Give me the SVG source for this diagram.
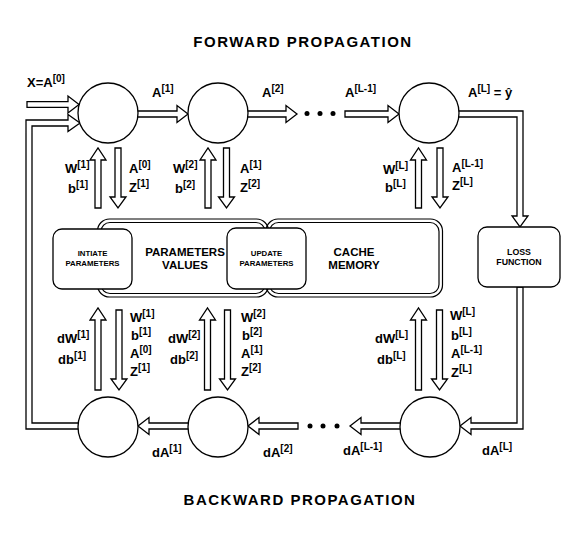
<svg xmlns="http://www.w3.org/2000/svg" width="585" height="545" viewBox="0 0 585 545">
<style>
.ar{fill:#fff;stroke:#000;stroke-width:1.3;stroke-linejoin:miter}
.nd{fill:#fff;stroke:#000;stroke-width:1.3}
.db{fill:none;stroke:#000;stroke-width:1.2}
.dot{fill:#000}
text{font-family:"Liberation Sans",Arial,sans-serif;font-weight:bold;fill:#000}
.lb{font-size:13px}
.sp{font-size:10px}
.t{font-size:15px;letter-spacing:1.5px;text-anchor:middle}
.bx{font-size:7.8px;text-anchor:middle}
.mb{font-size:11.5px;text-anchor:middle}
</style>
<rect width="585" height="545" fill="#fff"/>
<text class="t" x="303" y="47">FORWARD PROPAGATION</text>
<text class="t" x="300" y="505">BACKWARD PROPAGATION</text>

<g id="connectors">
  <path class="ar" d="M27,101.7 H68 V96 L79,104.5 L68,113 V107.3 H27 Z"/>
  <path class="ar" d="M85,423 H32 V126 H68 V131.5 L80,123 L68,114.5 V120 H26 V429 H85 Z"/>
  <path class="ar" d="M135,111 H177 V105.5 L188,114 L177,122.5 V117 H135 Z"/>
  <path class="ar" d="M245,111 H286 V105.5 L297,114 L286,122.5 V117 H245 Z"/>
  <path class="ar" d="M345,111 H388 V105.5 L399,114 L388,122.5 V117 H345 Z"/>
  <path class="ar" d="M455,111 H523 V216 H528 L520,227 L512,216 H517 V117 H455 Z"/>
  <path class="ar" d="M517,287 V423 H471 V417.5 L460,426 L471,434.5 V429 H523 V287 Z"/>
  <path class="ar" d="M192,423 H149 V417.5 L138,426 L149,434.5 V429 H192 Z"/>
  <path class="ar" d="M298,423 H259 V417.5 L248,426 L259,434.5 V429 H298 Z"/>
  <path class="ar" d="M404,423 H361 V417.5 L350,426 L361,434.5 V429 H404 Z"/>
  <path class="ar" d="M95,208 V160 H90 L98,148 L106,160 H101 V208 Z"/>
  <path class="ar" d="M115,148 V197 H110 L118,208 L126,197 H121 V148 Z"/>
  <path class="ar" d="M205,208 V160 H200 L208,148 L216,160 H211 V208 Z"/>
  <path class="ar" d="M223.5,148 V197 H218.5 L226.5,208 L234.5,197 H229.5 V148 Z"/>
  <path class="ar" d="M415.5,208 V160 H410.5 L418.5,148 L426.5,160 H421.5 V208 Z"/>
  <path class="ar" d="M437,148 V197 H432 L440,208 L448,197 H443 V148 Z"/>
  <path class="ar" d="M95,390 V320 H90 L98,308 L106,320 H101 V390 Z"/>
  <path class="ar" d="M116,310 V379 H111 L119,390 L127,379 H122 V310 Z"/>
  <path class="ar" d="M204.5,390 V320 H199.5 L207.5,308 L215.5,320 H210.5 V390 Z"/>
  <path class="ar" d="M224.5,310 V379 H219.5 L227.5,390 L235.5,379 H230.5 V310 Z"/>
  <path class="ar" d="M415.5,390 V320 H410.5 L418.5,308 L426.5,320 H421.5 V390 Z"/>
  <path class="ar" d="M436.5,310 V379 H431.5 L439.5,390 L447.5,379 H442.5 V310 Z"/>
  <circle class="dot" cx="307" cy="113.5" r="2.5"/>
  <circle class="dot" cx="320" cy="113.5" r="2.5"/>
  <circle class="dot" cx="333" cy="113.5" r="2.5"/>
  <circle class="dot" cx="310" cy="426" r="2.5"/>
  <circle class="dot" cx="323" cy="426" r="2.5"/>
  <circle class="dot" cx="337" cy="426" r="2.5"/>
</g>

<g id="fwd1"><circle class="nd" cx="108" cy="113" r="30"/></g>
<g id="fwd2"><circle class="nd" cx="218" cy="113" r="30"/></g>
<g id="fwdL"><circle class="nd" cx="429" cy="113" r="30"/></g>
<g id="bwd1"><circle class="nd" cx="108" cy="427" r="30"/></g>
<g id="bwd2"><circle class="nd" cx="218" cy="427" r="30"/></g>
<g id="bwdL"><circle class="nd" cx="430" cy="427" r="30"/></g>

<g id="param-values">
  <rect class="db" x="97.5" y="219" width="171" height="78" rx="12"/>
  <rect class="db" x="101" y="222.5" width="164" height="71" rx="9"/>
  <text class="mb" x="185" y="256">PARAMETERS</text>
  <text class="mb" x="185" y="269">VALUES</text>
</g>
<g id="cache-memory">
  <rect class="db" x="266" y="219" width="176.5" height="78" rx="12"/>
  <rect class="db" x="269.5" y="222.5" width="169.5" height="71" rx="9"/>
  <text class="mb" x="354" y="256">CACHE</text>
  <text class="mb" x="354" y="269">MEMORY</text>
</g>
<g id="initiate">
  <rect class="nd" x="53" y="229" width="79" height="60" rx="9"/>
  <text class="bx" x="92.5" y="256">INTIATE</text>
  <text class="bx" x="92.5" y="266">PARAMETERS</text>
</g>
<g id="update">
  <rect class="nd" x="227" y="228" width="79" height="61" rx="9"/>
  <text class="bx" x="266.5" y="256">UPDATE</text>
  <text class="bx" x="266.5" y="266">PARAMETERS</text>
</g>
<g id="loss">
  <rect class="nd" x="478" y="227" width="82" height="60" rx="9"/>
  <text class="bx" x="519" y="255" style="font-size:8.8px">LOSS</text>
  <text class="bx" x="519" y="265" style="font-size:8.8px">FUNCTION</text>
</g>

<g id="labels" class="lb">
  <text x="27" y="87">X=A<tspan class="sp" dy="-5">[0]</tspan></text>
  <text x="152" y="97">A<tspan class="sp" dy="-5">[1]</tspan></text>
  <text x="262" y="97">A<tspan class="sp" dy="-5">[2]</tspan></text>
  <text x="345" y="97">A<tspan class="sp" dy="-5">[L-1]</tspan></text>
  <text x="468" y="97">A<tspan class="sp" dy="-5">[L]</tspan><tspan dy="5"> = ŷ</tspan></text>

  <text x="65" y="173">W<tspan class="sp" dy="-5">[1]</tspan></text>
  <text x="68" y="193">b<tspan class="sp" dy="-5">[1]</tspan></text>
  <text x="129" y="173">A<tspan class="sp" dy="-5">[0]</tspan></text>
  <text x="129" y="192">Z<tspan class="sp" dy="-5">[1]</tspan></text>
  <text x="173" y="173">W<tspan class="sp" dy="-5">[2]</tspan></text>
  <text x="175" y="193">b<tspan class="sp" dy="-5">[2]</tspan></text>
  <text x="240" y="173">A<tspan class="sp" dy="-5">[1]</tspan></text>
  <text x="240" y="192">Z<tspan class="sp" dy="-5">[2]</tspan></text>
  <text x="383" y="174">W<tspan class="sp" dy="-5">[L]</tspan></text>
  <text x="385" y="192">b<tspan class="sp" dy="-5">[L]</tspan></text>
  <text x="452" y="172">A<tspan class="sp" dy="-5">[L-1]</tspan></text>
  <text x="452" y="190">Z<tspan class="sp" dy="-5">[L]</tspan></text>

  <text x="130" y="322">W<tspan class="sp" dy="-5">[1]</tspan></text>
  <text x="131" y="340">b<tspan class="sp" dy="-5">[1]</tspan></text>
  <text x="130" y="358">A<tspan class="sp" dy="-5">[0]</tspan></text>
  <text x="130" y="376">Z<tspan class="sp" dy="-5">[1]</tspan></text>
  <text x="57" y="343">dW<tspan class="sp" dy="-5">[1]</tspan></text>
  <text x="58" y="364">db<tspan class="sp" dy="-5">[1]</tspan></text>
  <text x="241" y="322">W<tspan class="sp" dy="-5">[2]</tspan></text>
  <text x="242" y="340">b<tspan class="sp" dy="-5">[2]</tspan></text>
  <text x="241" y="358">A<tspan class="sp" dy="-5">[1]</tspan></text>
  <text x="241" y="376">Z<tspan class="sp" dy="-5">[2]</tspan></text>
  <text x="168" y="343">dW<tspan class="sp" dy="-5">[2]</tspan></text>
  <text x="170" y="364">db<tspan class="sp" dy="-5">[2]</tspan></text>
  <text x="450" y="320">W<tspan class="sp" dy="-5">[L]</tspan></text>
  <text x="451" y="340">b<tspan class="sp" dy="-5">[L]</tspan></text>
  <text x="451" y="358">A<tspan class="sp" dy="-5">[L-1]</tspan></text>
  <text x="451" y="377">Z<tspan class="sp" dy="-5">[L]</tspan></text>
  <text x="375" y="343">dW<tspan class="sp" dy="-5">[L]</tspan></text>
  <text x="377" y="364">db<tspan class="sp" dy="-5">[L]</tspan></text>

  <text x="152" y="457">dA<tspan class="sp" dy="-5">[1]</tspan></text>
  <text x="263" y="457">dA<tspan class="sp" dy="-5">[2]</tspan></text>
  <text x="343" y="455">dA<tspan class="sp" dy="-5">[L-1]</tspan></text>
  <text x="482" y="455">dA<tspan class="sp" dy="-5">[L]</tspan></text>
</g>
</svg>
